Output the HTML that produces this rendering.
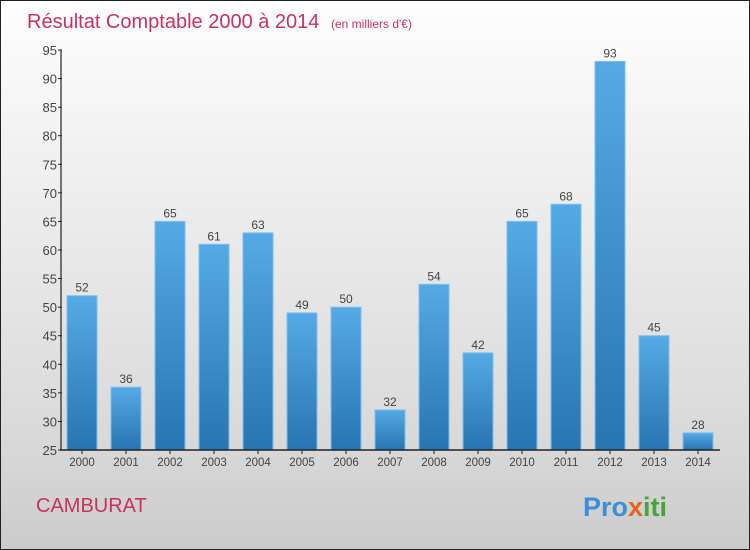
<!DOCTYPE html>
<html><head><meta charset="utf-8"><style>
body{margin:0;width:750px;height:550px;overflow:hidden;font-family:"Liberation Sans",sans-serif}
#wrap{position:absolute;left:0;top:0;width:748px;height:548px;border:1px solid #222;background:linear-gradient(#fefefe,#f0f0f0 30%,#d9d9d9 80%,#cbcbcb)}
</style></head><body>
<div id="wrap">
<svg width="750" height="550" style="position:absolute;left:-1px;top:-1px" id="svg">
<defs><linearGradient id="bg" x1="0" y1="0" x2="0" y2="1"><stop offset="0" stop-color="#55aae6"/><stop offset="1" stop-color="#2775b2"/></linearGradient></defs>
<text x="27" y="28" font-size="20" fill="#c8325e">Résultat Comptable 2000 à 2014 <tspan font-size="12" dx="6">(en milliers d'€)</tspan></text>
<text x="36" y="512" font-size="20" fill="#c8325e">CAMBURAT</text>
<text x="583" y="516" font-size="27" font-weight="bold"><tspan fill="#3a8fd6">Pro</tspan><tspan fill="#e8641c">x</tspan><tspan fill="#49a33a">iti</tspan></text>
<g id="g"></g>
</svg></div>
<script>
const categories=["2000","2001","2002","2003","2004","2005","2006","2007","2008","2009","2010","2011","2012","2013","2014"];
const values=[52,36,65,61,63,49,50,32,54,42,65,68,93,45,28];
const yTicks=[25,30,35,40,45,50,55,60,65,70,75,80,85,90,95];
const X0=60,STEP=44,Y0=450,YMIN=25,YMAX=95,H=400;
const y=v=>Y0-(v-YMIN)/(YMAX-YMIN)*H;
const xc=i=>X0+STEP*i+STEP/2;
const g=document.getElementById('g');const NS="http://www.w3.org/2000/svg";
function mk(t,a,txt){const e=document.createElementNS(NS,t);for(const k in a)e.setAttribute(k,a[k]);if(txt!=null)e.textContent=txt;g.appendChild(e);return e;}
values.forEach((v,i)=>{
 const r=mk('rect',{x:xc(i)-15,y:y(v),width:30,height:Y0-y(v),fill:'url(#bg)',stroke:'#7cc0ee','stroke-width':1});
 
 
 const t=mk('text',{x:xc(i),y:y(v)-4,'text-anchor':'middle','font-size':12,fill:'#444'},v);
 
 
 const c=mk('text',{x:xc(i),y:466,'text-anchor':'middle','font-size':11.5,fill:'#444'},categories[i]);
 
 
 mk('line',{x1:xc(i),x2:xc(i),y1:Y0,y2:Y0+4,stroke:'#222'});
});
yTicks.forEach(v=>{
 mk('line',{x1:58,x2:62,y1:y(v),y2:y(v),stroke:'#222'});
 const t=mk('text',{x:57,y:y(v)+5,'text-anchor':'end','font-size':13,fill:'#444'},v);
 
 
});
const ya=mk('line',{x1:61,x2:61,y1:y(YMAX),y2:Y0,stroke:'#222','stroke-width':1.2});


const xa=mk('line',{x1:60,x2:X0+STEP*categories.length,y1:Y0,y2:Y0,stroke:'#222','stroke-width':1.5});


</script>
</body></html>
